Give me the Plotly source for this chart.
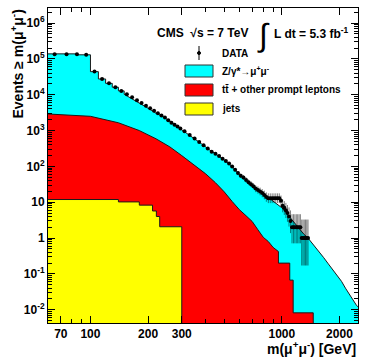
import numpy as np
import plotly.graph_objects as go

# cumulative counts, events with m(mu mu) >= m
data_mass = [65, 75, 85, 95, 105, 115, 125, 135, 145, 155, 165, 175, 185, 195,
             205, 215, 225, 235, 245, 255, 265, 275, 285, 295, 310, 330, 350,
             370, 390, 410, 430, 450, 470, 490, 510, 530, 550, 570, 590, 610,
             630, 650, 670, 690, 710, 730, 750, 770, 790, 810, 830, 850, 870,
             890, 910, 930, 950, 970, 990, 1010, 1030, 1050, 1070, 1090, 1110,
             1130, 1150, 1170, 1190, 1210, 1230, 1250, 1270, 1290, 1310, 1330,
             1350, 1370]
data_events = [135000, 135000, 135000, 130000, 44200, 27600, 20900, 16200,
               12800, 10300, 8500, 7000, 5850, 4950, 4200, 3550, 3050, 2650,
               2300, 1950, 1650, 1450, 1290, 1140, 960, 754, 600, 480, 390, 315,
               258, 225, 194, 164, 141, 120, 99, 80, 65, 55, 49, 42, 36, 32, 28,
               24, 22, 20, 18, 16, 14, 13, 13, 13, 13, 13, 13, 13, 11, 8, 7, 6,
               5, 4, 3, 2, 2, 2, 2, 2, 2, 2, 1, 1, 1, 1, 1, 1]

# top of each stacked component (Z + ttbar + jets, ttbar + jets, jets)
zmumu_mass = [60, 85, 85, 100, 100, 110, 110, 120, 120, 130, 130, 140, 140,
              150, 150, 160, 170, 180, 190, 200, 220, 240, 260, 280, 300, 340,
              380, 420, 460, 500, 550, 600, 650, 700, 750, 800, 850, 900, 950,
              1000, 1050, 1100, 1150, 1200, 1250, 1300, 1370, 1450, 1550, 1650,
              1750, 1850, 1950, 2050, 2150, 2250, 2350, 2450, 2500]
zmumu_stack = [138000, 138000, 130000, 130000, 44000, 44000, 27500, 27500,
               20800, 20800, 16200, 16200, 12800, 12800, 10300, 8500, 7000,
               5850, 4950, 4200, 3050, 2450, 1800, 1370, 1060, 680, 430, 287,
               210, 152, 99, 60, 42, 30, 22, 17, 13.5, 10.5, 8.5, 7, 5.2, 3.8,
               2.8, 2.1, 1.6, 1.3, 1.0, 0.7, 0.45, 0.29, 0.19, 0.13, 0.092,
               0.062, 0.04, 0.027, 0.019, 0.0135, 0.012]

ttbar_mass = [60, 100, 140, 180, 220, 260, 300, 350, 400, 450, 500, 550, 600,
              650, 700, 750, 800, 850, 900, 960, 960, 1100, 1100, 1146, 1146,
              1459, 1459]
ttbar_stack = [2900, 2500, 1650, 1000, 590, 350, 200, 108, 62, 35, 19.5, 10.5,
               6.2, 4.2, 2.9, 1.7, 1.05, 0.8, 0.55, 0.42, 0.2, 0.2, 0.067,
               0.067, 0.0082, 0.0082, 1e-4]

jets_mass = [60, 140, 140, 180, 180, 211, 211, 221, 221, 230, 230, 300, 300]
jets_stack = [11.9, 11.9, 10.2, 10.2, 8.3, 8.3, 5.7, 5.7, 4.0, 4.0, 2.07, 2.07,
              1e-4]

x_labels = [70, 100, 200, 300, 1000, 2000]
x_minor = [60, 80, 90, 400, 500, 600, 700, 800, 900]
y_labels = ["10<sup>-2</sup>", "10<sup>-1</sup>", "1", "10", "10<sup>2</sup>",
            "10<sup>3</sup>", "10<sup>4</sup>", "10<sup>5</sup>", "10<sup>6</sup>"]

FONT = "Liberation Sans, Arial, sans-serif"
OUTLINE = "#1a1a1a"

# garwood-like poisson intervals (wilson-hilferty approximation)
n = np.array(data_events, dtype=float)
lo = n * (1 - 1 / (9 * n) - 1 / (3 * np.sqrt(n))) ** 3
hi = (n + 1) * (1 - 1 / (9 * (n + 1)) + 1 / (3 * np.sqrt(n + 1))) ** 3

fig = go.Figure()
for xs, ys, colour in [
    (zmumu_mass, zmumu_stack, "#00ffff"),
    (ttbar_mass, ttbar_stack, "#ff0000"),
    (jets_mass, jets_stack, "#ffff00"),
]:
    fig.add_trace(
        go.Scatter(
            x=xs, y=ys, mode="lines", fill="tozeroy", fillcolor=colour,
            line=dict(color=OUTLINE, width=1), hoverinfo="skip",
        )
    )

fig.add_trace(
    go.Scatter(
        x=data_mass, y=data_events, mode="markers",
        marker=dict(color="black", size=4),
        error_y=dict(type="data", symmetric=False, array=hi - n,
                     arrayminus=n - lo, color="rgba(0,0,0,0.5)",
                     thickness=1, width=0),
    )
)


def px_x(px):
    return (px - 48) / 310


def px_y(py):
    return (323 - py) / 315


def note(text, x, y, size, anchor="left", bold=True, angle=0, yanchor="middle"):
    fig.add_annotation(
        text=text, x=x, y=y, xref="paper", yref="paper", showarrow=False,
        xanchor=anchor, yanchor=yanchor, textangle=angle,
        font=dict(family=FONT, size=size, color="black",
                  weight="bold" if bold else "normal"),
    )


note("CMS  √s = 7 TeV", px_x(155), px_y(33), 12)
note("∫", px_x(263), px_y(35), 32, anchor="center", bold=False)
note("L dt = 5.3 fb<sup>-1</sup>", px_x(272), px_y(33), 12)

# legend
fig.add_shape(type="line", xref="paper", yref="paper", x0=px_x(199), x1=px_x(199),
              y0=px_y(46), y1=px_y(60), line=dict(color="black", width=1))
fig.add_shape(type="circle", xref="paper", yref="paper", x0=px_x(197.5),
              x1=px_x(200.5), y0=px_y(51.5), y1=px_y(54.5),
              fillcolor="black", line=dict(color="black", width=1))
note("DATA", px_x(220), px_y(53), 10)
for top, colour, label in [
    (65, "#00ffff", "Z/γ*→μ<sup>+</sup>μ<sup>-</sup>"),
    (84, "#ff0000", "tt̄ + other prompt leptons"),
    (103, "#ffff00", "jets"),
]:
    fig.add_shape(type="rect", xref="paper", yref="paper", x0=px_x(185),
                  x1=px_x(213), y0=px_y(top), y1=px_y(top + 12),
                  fillcolor=colour, line=dict(color="#333333", width=1))
    note(label, px_x(220), px_y(top + 6), 10)

# axis titles, ROOT style aligned to the axis end
note("Events ≥ m(μ<sup>+</sup>μ<sup>-</sup>)", px_x(17), 1.0, 14,
     anchor="center", angle=-90, yanchor="top")
note("m(μ<sup>+</sup>μ<sup>-</sup>) [GeV]", 1.0, px_y(348), 14, anchor="right")

axis_style = dict(
    showgrid=False, zeroline=False, showline=True, linecolor="black",
    linewidth=1, mirror="allticks", ticks="inside", ticklen=7,
    tickcolor="black", tickfont=dict(family=FONT, size=12, color="black",
                                     weight="bold"),
)
fig.update_xaxes(
    type="log", range=[np.log10(60), np.log10(2500)], tickvals=x_labels,
    ticktext=[str(v) for v in x_labels],
    minor=dict(tickvals=x_minor, ticks="inside", ticklen=4, tickcolor="black"),
    **axis_style,
)
fig.update_yaxes(
    type="log", range=[-2.37, 6.42],
    tickvals=[10.0 ** k for k in range(-2, 7)], ticktext=y_labels,
    minor=dict(tickvals=[m * 10.0 ** k for k in range(-3, 7) for m in range(2, 10)],
               ticks="inside", ticklen=4, tickcolor="black"),
    **axis_style,
)
fig.update_layout(
    width=374, height=359, showlegend=False,
    margin=dict(l=48, r=16, t=8, b=36),
    plot_bgcolor="white", paper_bgcolor="white",
    font=dict(family=FONT, color="black"),
)

# drop the default page margin so the figure sits at the window corner
fig.write_html("out.html", config={"displayModeBar": False},
               post_script="document.body.style.margin='0px';")
